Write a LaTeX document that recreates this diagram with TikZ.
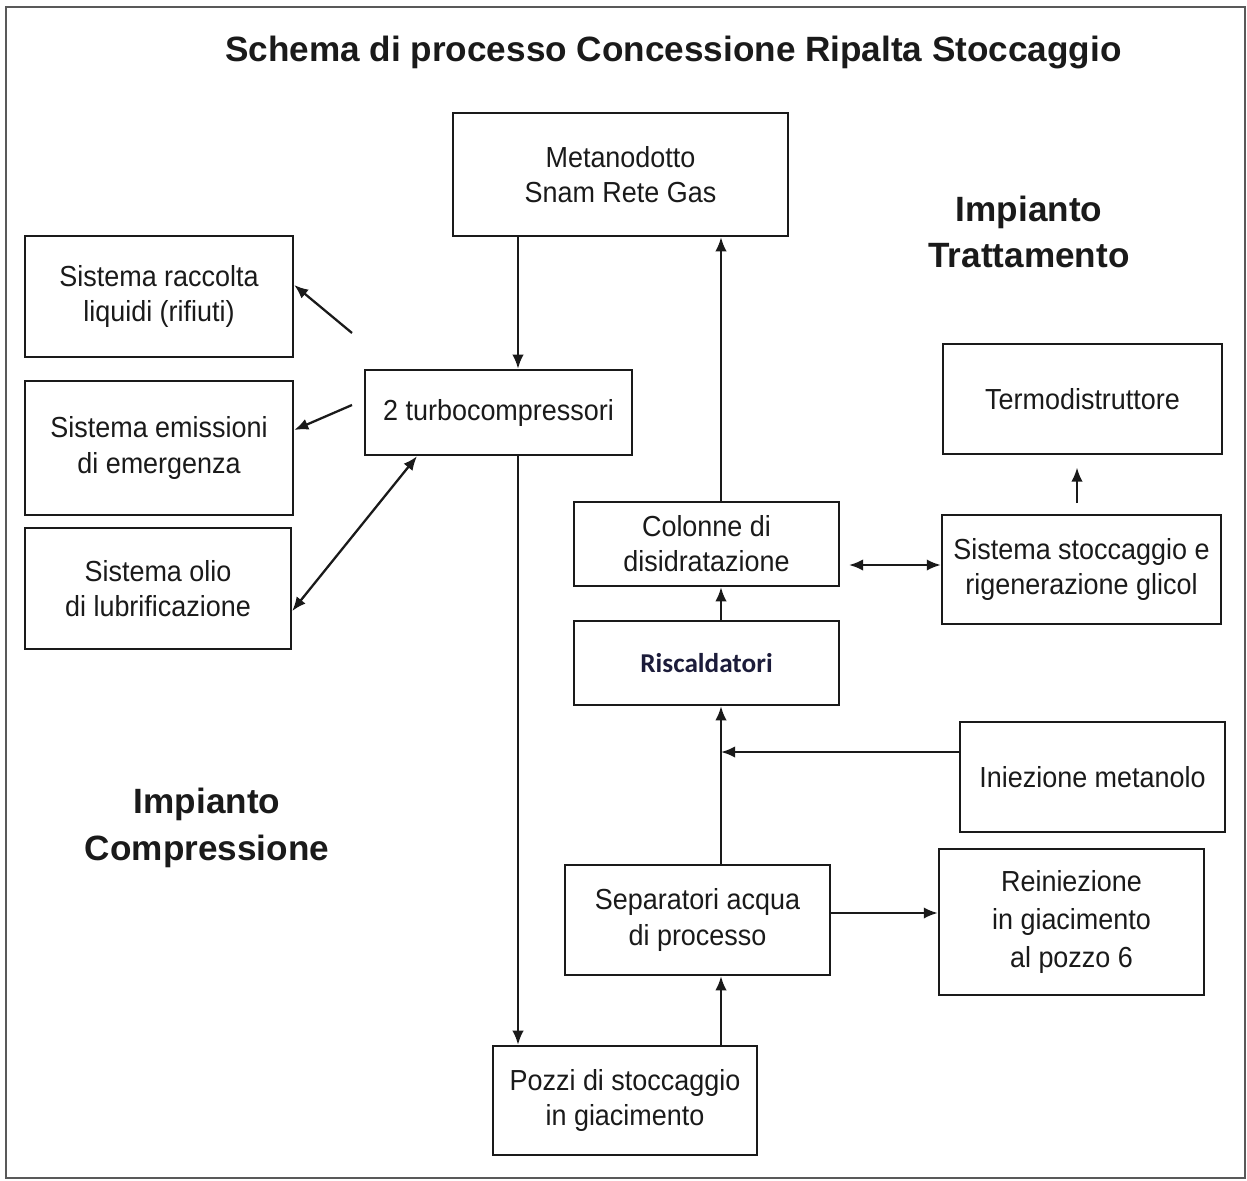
\documentclass[tikz,border=0pt]{standalone}
\usepackage{fontspec}
\setmainfont{Liberation Sans}[FakeStretch=0.93]
\newfontfamily\headfont{Liberation Sans}
\newfontfamily\riscfont{Carlito}
\usetikzlibrary{arrows.meta}
\definecolor{ink}{HTML}{1A1A1A}
\definecolor{navy}{HTML}{1C1C3A}
\begin{document}
\begin{tikzpicture}[x=0.02cm,y=-0.02cm,
  box/.style={draw=ink, line width=1.4pt, align=center, inner sep=0pt, text=ink,
    font=\fontsize{16.5}{20}\selectfont},
  arr/.style={draw=ink, line width=1.3pt, -{Latex[length=8pt,width=6.5pt]}},
  darr/.style={draw=ink, line width=1.3pt, {Latex[length=8pt,width=6.5pt]}-{Latex[length=8pt,width=6.5pt]}},
  head/.style={align=center, text=ink, font=\headfont\bfseries\fontsize{20}{26.5}\selectfont}]
\useasboundingbox (0,0) rectangle (1247,1180);
\draw[gray!70!black, line width=1.2pt] (6,7) rectangle (1245,1178);

\node[text=ink, font=\headfont\bfseries\fontsize{20}{24}\selectfont] (title) at (673.5,52) {Schema di processo Concessione Ripalta Stoccaggio};
\node[head] (lt) at (1029,232) {Impianto\\Trattamento};
\node[head] (lc) at (207,828) {Impianto\\Compressione};

\node[box, minimum width=6.70cm, minimum height=2.46cm] (meta) at (620.5,174.5) {Metanodotto\\Snam Rete Gas};
\node[box, minimum width=5.36cm, minimum height=2.42cm] (racc) at (159,296.5) {Sistema raccolta\\liquidi (rifiuti)};
\node[box, minimum width=5.36cm, minimum height=2.68cm] (emis) at (159,448) {Sistema emissioni\\di emergenza};
\node[box, minimum width=5.32cm, minimum height=2.42cm] (olio) at (158,588.5) {Sistema olio\\di lubrificazione};
\node[box, minimum width=5.34cm, minimum height=1.70cm] (turbo) at (498.5,412.5) {2 turbocompressori};
\node[box, minimum width=5.30cm, minimum height=1.68cm] (colo) at (706.5,544) {Colonne di\\disidratazione};
\node[box, minimum width=5.30cm, minimum height=1.68cm, text=navy, font=\riscfont\bfseries\fontsize{15.5}{19}\selectfont] (risc) at (706.5,663) {Riscaldatori};
\node[box, minimum width=5.58cm, minimum height=2.20cm] (term) at (1082.5,399) {Termodistruttore};
\node[box, minimum width=5.58cm, minimum height=2.18cm] (glic) at (1081.5,569.5) {Sistema stoccaggio e\\rigenerazione glicol};
\node[box, minimum width=5.30cm, minimum height=2.20cm] (inie) at (1092.5,777) {Iniezione metanolo};
\node[box, minimum width=5.30cm, minimum height=2.20cm] (sepa) at (697.5,920) {Separatori acqua\\di processo};
\node[box, minimum width=5.30cm, minimum height=2.92cm, font=\fontsize{16.5}{21.5}\selectfont] (rein) at (1071.5,922) {Reiniezione\\in giacimento\\al pozzo 6};
\node[box, minimum width=5.28cm, minimum height=2.18cm] (pozz) at (625,1100.5) {Pozzi di stoccaggio\\in giacimento};

\coordinate (cA) at (518,0);
\coordinate (cB) at (721,0);
\coordinate (cC) at (0,565);
\coordinate (cD) at (1077,0);
\coordinate (cE) at (0,913);
\coordinate (J) at (721,752);
\coordinate (t1) at (352,333);
\coordinate (yR) at (0,285);
\coordinate (t2) at (352,405);
\coordinate (yE) at (0,430);
\coordinate (yO) at (0,611);
\coordinate (xO) at (417,0);

\draw[arr] (meta.south -| cA) -- (turbo.north -| cA);
\draw[arr] (turbo.south -| cA) -- (pozz.north -| cA);
\draw[arr] (pozz.north -| cB) -- (sepa.south -| cB);
\draw[arr] (sepa.north -| cB) -- (risc.south -| cB);
\draw[arr] (inie.west |- J) -- (J);
\draw[arr] (risc.north -| cB) -- (colo.south -| cB);
\draw[arr] (colo.north -| cB) -- (meta.south -| cB);
\draw[darr, shorten <=5pt] (colo.east |- cC) -- (glic.west |- cC);
\draw[arr, shorten <=6pt, shorten >=7pt] (glic.north -| cD) -- (term.south -| cD);
\draw[arr] (sepa.east |- cE) -- (rein.west |- cE);
\draw[arr] (t1) -- (racc.east |- yR);
\draw[arr] (t2) -- (emis.east |- yE);
\draw[darr] (olio.east |- yO) -- (turbo.south -| xO);
\end{tikzpicture}
\end{document}
